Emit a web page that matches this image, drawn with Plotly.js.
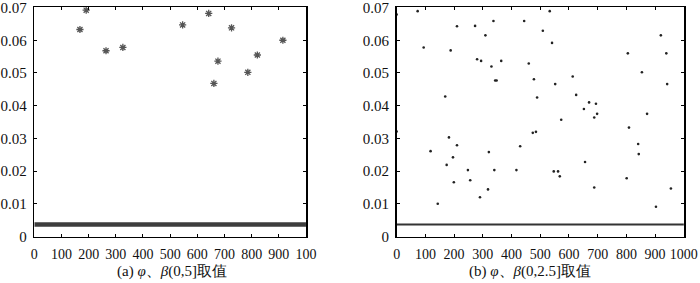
<!DOCTYPE html>
<html><head><meta charset="utf-8">
<script src="https://cdn.plot.ly/plotly-3.0.1.min.js"></script>
<style>html,body{margin:0;padding:0;background:#fff}#chart{width:700px;height:283px}</style>
</head><body><div id="chart"></div>
<script>
// Panel (a): φ、β in (0,5]
const iterA = [168,191,264,326,546,642,676,661,726,786,821,915];
const valA  = [0.0633,0.0692,0.0568,0.0578,0.0647,0.0682,0.0536,0.0468,0.0638,0.0502,0.0555,0.0600];
const baseIterA = [0,1000];
const baseValA  = [0.0037,0.0037];

// Panel (b): φ、β in (0,2.5]
const iterB = [0,73,210,273,337,444,309,509,94,188,280,294,330,364,343,348,460,478,169,489,533,541,920,805,939,854,613,552,942,625,670,694,652,698,688,872,573,0,474,485,182,210,118,321,430,196,174,248,340,417,199,256,318,290,143,809,841,843,656,547,562,568,801,688,955,903];
const valB  = [0.0679,0.0689,0.0643,0.0644,0.0659,0.0659,0.0615,0.0629,0.0578,0.0569,0.0542,0.0537,0.0520,0.0537,0.0477,0.0477,0.0529,0.0481,0.0428,0.0425,0.0689,0.0592,0.0615,0.0560,0.0560,0.0502,0.0489,0.0466,0.0466,0.0433,0.0410,0.0406,0.0390,0.0375,0.0364,0.0375,0.0357,0.0321,0.0317,0.0320,0.0303,0.0279,0.0261,0.0258,0.0276,0.0242,0.0219,0.0203,0.0203,0.0203,0.0166,0.0172,0.0144,0.0120,0.0100,0.0333,0.0283,0.0252,0.0228,0.0199,0.0199,0.0184,0.0178,0.0150,0.0147,0.0091];
const baseIterB = [0,1000];
const baseValB  = [0.0037,0.0037];

const xTickVals = [0,100,200,300,400,500,600,700,800,900,1000];
const xTickTextA = ['0','100','200','300','400','500','600','700','800','900','100'];
const xTickTextB = ['0','100','200','300','400','500','600','700','800','900','1000'];
const yTickVals = [0,0.01,0.02,0.03,0.04,0.05,0.06,0.07];
const yTickText = ['0','0.01','0.02','0.03','0.04','0.05','0.06','0.07'];
const captionA = '(a) <i>φ</i>、<i>β</i>(0,5]取值';
const captionB = '(b) <i>φ</i>、<i>β</i>(0,2.5]取值';

const serif = 'Liberation Serif, Tinos, Times New Roman, DejaVu Serif, serif';

const traces = [
  {x: baseIterA, y: baseValA, xaxis:'x', yaxis:'y', mode:'lines', line:{color:'#3d3d3d', width:4.5}, cliponaxis:false, hoverinfo:'skip'},
  {x: iterA, y: valA, xaxis:'x', yaxis:'y', mode:'markers', cliponaxis:false,
   marker:{symbol:'asterisk-open', size:6, color:'#555', line:{color:'#555', width:1.3}}},
  {x: baseIterB, y: baseValB, xaxis:'x2', yaxis:'y2', mode:'lines', line:{color:'#333', width:2}, cliponaxis:false, hoverinfo:'skip'},
  {x: iterB, y: valB, xaxis:'x2', yaxis:'y2', mode:'markers', cliponaxis:false,
   marker:{symbol:'circle', size:2.6, color:'#222'}}
];

function xAxis(domain, text, anchor){
  return {domain: domain, range:[0,1000.5], anchor: anchor, tickvals: xTickVals, ticktext: text,
    ticks:'inside', ticklen:3, tickcolor:'#000', tickwidth:1, showline:true, linecolor:'#000', linewidth:1.6,
    mirror:'ticks', showgrid:false, zeroline:false, tickfont:{family:serif, size:14, color:'#111'}, ticklabelstandoff:4,
    ticklabeloverflow:'allow', fixedrange:true};
}
function yAxis(anchor){
  return {domain:[0.1643,0.9735], range:[0,0.07002], anchor: anchor, tickvals: yTickVals, ticktext: yTickText,
    ticks:'inside', ticklen:3, tickcolor:'#000', tickwidth:1, showline:true, linecolor:'#000', linewidth:1.6,
    mirror:'ticks', showgrid:false, zeroline:false, tickfont:{family:serif, size:15, color:'#111'}, ticklabelstandoff:3,
    ticklabeloverflow:'allow', fixedrange:true};
}

const layout = {
  width:700, height:283, margin:{l:0,r:0,t:0,b:0}, showlegend:false,
  paper_bgcolor:'#fff', plot_bgcolor:'#fff',
  font:{family:serif},
  xaxis: xAxis([0.049,0.4373], xTickTextA, 'y'),
  yaxis: yAxis('x'),
  xaxis2: xAxis([0.5667,0.9771], xTickTextB, 'y2'),
  yaxis2: yAxis('x2'),
  annotations:[
    {text: captionA, xref:'paper', yref:'paper', x:172/700, y:1-271/283, xanchor:'center', yanchor:'middle', showarrow:false, font:{family:serif, size:15, color:'#111'}},
    {text: captionB, xref:'paper', yref:'paper', x:530/700, y:1-271/283, xanchor:'center', yanchor:'middle', showarrow:false, font:{family:serif, size:15, color:'#111'}}
  ]
};
Plotly.newPlot('chart', traces, layout, {staticPlot:true, displayModeBar:false});
</script></body></html>
